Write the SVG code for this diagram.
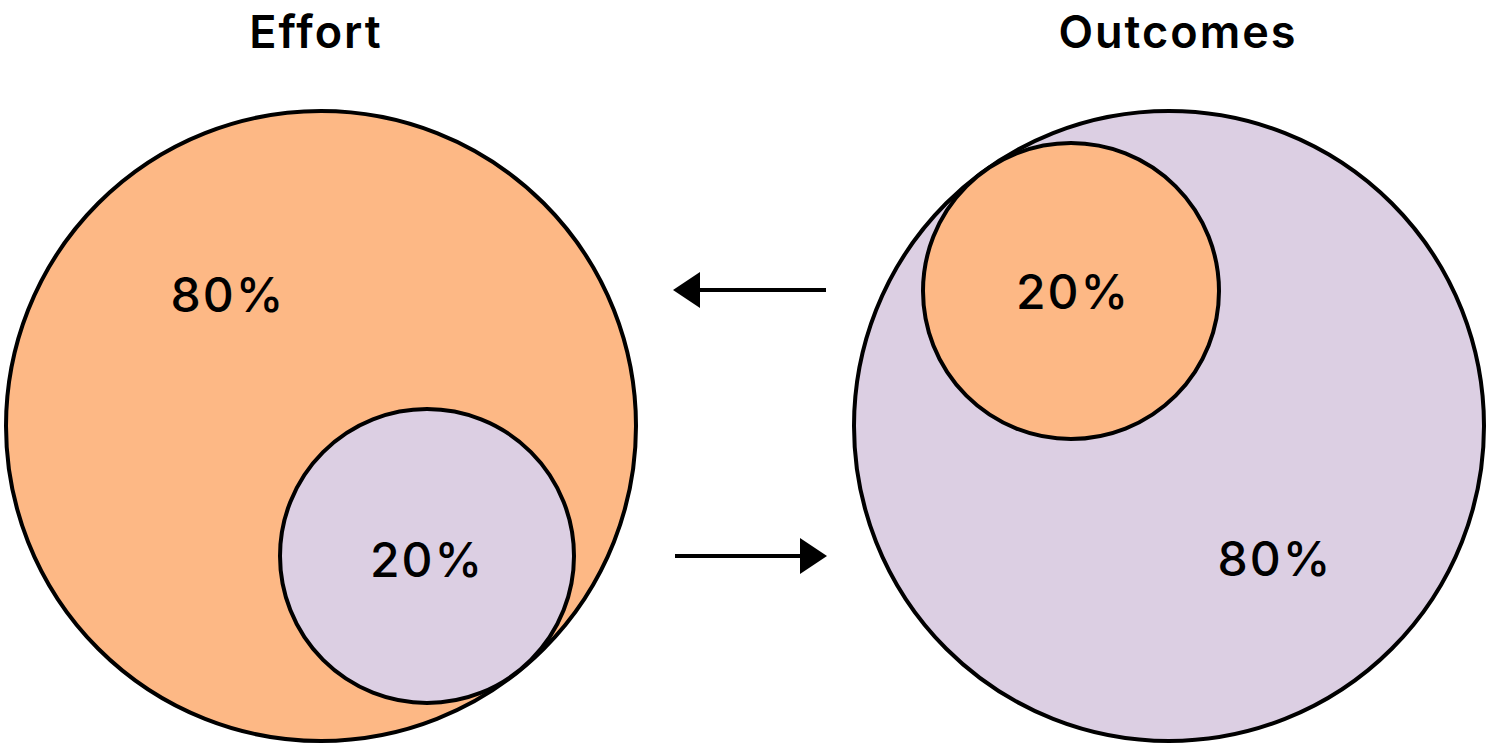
<svg xmlns="http://www.w3.org/2000/svg" width="1500" height="744" viewBox="0 0 1500 744">
<style>
.c{stroke:#000;stroke-width:4}
.o{fill:#FDB885}
.p{fill:#DCCFE3}
.t{font-family:Inter,"Liberation Sans",sans-serif;font-weight:600;font-size:45px;letter-spacing:2px;fill:#000;text-anchor:middle}
.l{font-family:Inter,"Liberation Sans",sans-serif;font-weight:500;font-size:48px;letter-spacing:2px;fill:#000;text-anchor:middle}
.a{stroke:#000;stroke-width:4;fill:none}
</style>
<rect width="1500" height="744" fill="#fff"/>
<g id="effort-title"><text class="t" x="316" y="48">Effort</text></g>
<g id="outcomes-title"><text class="t" x="1178" y="48">Outcomes</text></g>
<g id="effort-big"><circle class="c o" cx="321" cy="426" r="315"/><text class="l" x="228" y="312">80%</text></g>
<g id="effort-small"><circle class="c p" cx="427" cy="556" r="147"/><text class="l" x="427" y="577">20%</text></g>
<g id="outcomes-big"><circle class="c p" cx="1169" cy="426" r="315"/><text class="l" x="1275" y="576">80%</text></g>
<g id="outcomes-small"><circle class="c o" cx="1071" cy="291" r="148"/><text class="l" x="1073" y="309">20%</text></g>
<g id="connectors">
<line class="a" x1="826" y1="290" x2="698" y2="290"/>
<polygon points="673,290 700,272 700,308" fill="#000"/>
<line class="a" x1="675" y1="556" x2="802" y2="556"/>
<polygon points="827,556 800,538 800,574" fill="#000"/>
</g>
</svg>
